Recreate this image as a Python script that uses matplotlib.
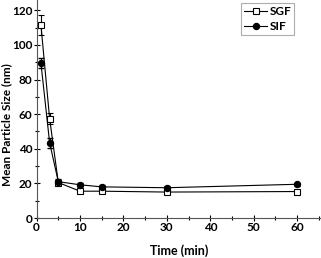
import matplotlib
matplotlib.use("Agg")
import matplotlib.pyplot as plt
from matplotlib.ticker import MultipleLocator

# datos
tiempo = [1, 3, 5, 10, 15, 30, 60]
sgf = [111.5, 57.5, 20.5, 15.5, 15.5, 15.0, 15.3]
sgf_err = [6.0, 3.0, 1.5, 1.0, 1.0, 0.8, 0.8]
sif = [89.5, 43.5, 21.0, 19.2, 18.0, 17.5, 19.5]
sif_err = [3.0, 3.0, 1.5, 0.8, 0.8, 0.8, 0.8]

plt.rcParams["font.family"] = ["Lato", "DejaVu Sans"]
plt.rcParams["font.weight"] = "bold"

fig = plt.figure(figsize=(3.21, 2.58), dpi=100)
ax = fig.add_axes([0.114, 0.155, 0.886, 0.845])

ax.errorbar(tiempo, sgf, yerr=sgf_err, color="black", lw=0.8, marker="s",
            markersize=3.8, markerfacecolor="white", markeredgewidth=0.8,
            capsize=2, elinewidth=0.8, label="SGF")
ax.errorbar(tiempo, sif, yerr=sif_err, color="black", lw=0.8, marker="o",
            markersize=4.3, markerfacecolor="black",
            capsize=2, elinewidth=0.8, label="SIF")

ax.set_xlim(0, 65.5)
ax.set_ylim(0, 126)
ax.xaxis.set_major_locator(MultipleLocator(10))
ax.xaxis.set_minor_locator(MultipleLocator(5))
ax.yaxis.set_major_locator(MultipleLocator(20))
ax.yaxis.set_minor_locator(MultipleLocator(10))
ax.tick_params(which="major", direction="inout", length=4, width=0.8, labelsize=8.5, pad=1)
ax.tick_params(which="minor", direction="inout", length=2.5, width=0.8)
for lbl in ax.get_xticklabels() + ax.get_yticklabels():
    lbl.set_fontweight("bold")

ax.spines["top"].set_visible(False)
ax.spines["right"].set_visible(False)
ax.spines["left"].set_color("#555555")
ax.spines["bottom"].set_color("#555555")

ax.set_xlabel("Time (min)", fontsize=9, fontweight="bold", labelpad=8)
ax.set_ylabel("Mean Particle Size (nm)", fontsize=8.5, fontweight="bold", labelpad=4)
ax.yaxis.set_label_coords(-0.085, 0.43)

# solo las marcas en la leyenda, sin barras de error
handles, labels = ax.get_legend_handles_labels()
handles = [h[0] for h in handles]
leg = ax.legend(handles, labels, loc="upper right", bbox_to_anchor=(0.915, 0.995),
                fontsize=8.5, frameon=True, fancybox=False, handlelength=2.0,
                borderpad=0.25, labelspacing=0.3, handletextpad=0.2,
                borderaxespad=0.2)
leg.get_frame().set_edgecolor("#999999")
leg.get_frame().set_linewidth(0.8)
for t in leg.get_texts():
    t.set_fontweight("bold")

fig.savefig("out.png", dpi=100)
